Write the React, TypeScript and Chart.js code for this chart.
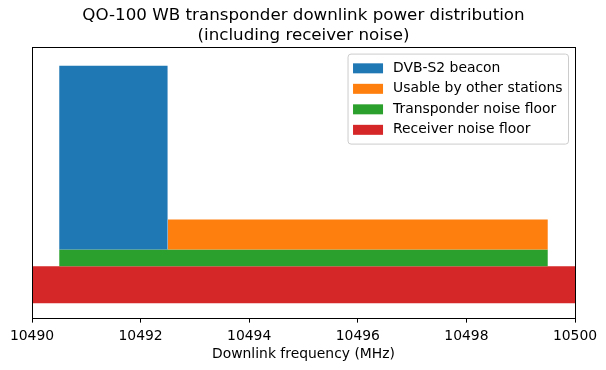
import React, { useEffect, useRef } from "react";
import { Chart, registerables } from "chart.js";

Chart.register(...registerables);

const titleLines = ["QO-100 WB transponder downlink power distribution", "(including receiver noise)"];
const xAxisTitle = "Downlink frequency (MHz)";
const segLabels = ["DVB-S2 beacon", "Usable by other stations", "Transponder noise floor", "Receiver noise floor"];
const segColors = ["#1f77b4", "#ff7f0e", "#2ca02c", "#d62728"];
const segStart = [10490.5, 10492.5, 10490.5, 10490];
const segEnd = [10492.5, 10499.5, 10499.5, 10500];
const segBottom = [25.2, 25.2, 19.0, 5.3];
const segTop = [93.1, 36.3, 25.2, 19.0];
const xMin = 10490;
const xMax = 10500;
const xStep = 2;
const yMin = 0;
const yMax = 100;

const FONT = "'DejaVu Sans', sans-serif";

const framePlugin = {
  id: "frame",
  afterDatasetsDraw(chart: any) {
    const { ctx, chartArea: a } = chart;
    ctx.save();
    ctx.strokeStyle = "#000";
    ctx.lineWidth = 1;
    ctx.strokeRect(Math.round(a.left) + 0.5, Math.round(a.top) + 0.5, Math.round(a.right - a.left), Math.round(a.bottom - a.top));
    ctx.restore();
  },
};

const legendPlugin = {
  id: "mplLegend",
  afterDraw(chart: any) {
    const { ctx, chartArea: a } = chart;
    const ds = chart.data.datasets;
    const fs = 13.9;
    ctx.save();
    ctx.font = `${fs}px ${FONT}`;
    let maxW = 0;
    ds.forEach((d: any) => (maxW = Math.max(maxW, ctx.measureText(d.label).width)));
    const rowH = 20.5;
    const pad = 5;
    const handleW = 30;
    const handleH = 10;
    const gap = 10;
    const w = pad + handleW + gap + maxW + pad + 1;
    const h = pad + 3 + rowH * ds.length;
    const right = a.right - 6.5;
    const left = right - w;
    const top = a.top + 7;
    const r = 3;
    ctx.beginPath();
    ctx.moveTo(left + r, top);
    ctx.lineTo(left + w - r, top);
    ctx.quadraticCurveTo(left + w, top, left + w, top + r);
    ctx.lineTo(left + w, top + h - r);
    ctx.quadraticCurveTo(left + w, top + h, left + w - r, top + h);
    ctx.lineTo(left + r, top + h);
    ctx.quadraticCurveTo(left, top + h, left, top + h - r);
    ctx.lineTo(left, top + r);
    ctx.quadraticCurveTo(left, top, left + r, top);
    ctx.closePath();
    ctx.fillStyle = "rgba(255,255,255,0.8)";
    ctx.fill();
    ctx.strokeStyle = "#cccccc";
    ctx.lineWidth = 1;
    ctx.stroke();
    ds.forEach((d: any, i: number) => {
      const cy = top + pad + 3 + rowH * i + rowH / 2 - 4;
      ctx.fillStyle = d.backgroundColor;
      ctx.fillRect(left + pad, cy - handleH / 2, handleW, handleH);
      ctx.fillStyle = "#000";
      ctx.textBaseline = "middle";
      ctx.textAlign = "left";
      ctx.fillText(d.label, left + pad + handleW + gap, cy);
    });
    ctx.restore();
  },
};

export default function App() {
  const ref = useRef<HTMLCanvasElement>(null);
  useEffect(() => {
    if (!ref.current) return;
    const datasets = segLabels.map((label, i) => ({
      label,
      data: [
        { x: segStart[i], y: segTop[i] },
        { x: segEnd[i], y: segTop[i] },
      ],
      backgroundColor: segColors[i],
      borderColor: segColors[i],
      borderWidth: 0,
      pointRadius: 0,
      tension: 0,
      fill: { value: segBottom[i] },
    }));
    const chart = new Chart(ref.current, {
      type: "line",
      data: { datasets },
      plugins: [framePlugin, legendPlugin],
      options: {
        animation: false,
        responsive: false,
        devicePixelRatio: 1,
        layout: { padding: { left: 32, right: 31, top: 0, bottom: 7 } },
        plugins: {
          legend: { display: false },
          tooltip: { enabled: false },
          title: {
            display: true,
            text: titleLines,
            color: "#000",
            font: { family: FONT, size: 16.7, weight: "normal", lineHeight: 1.2 },
            padding: { top: 6, bottom: 1 },
          },
        },
        scales: {
          x: {
            type: "linear",
            min: xMin,
            max: xMax,
            border: { display: false },
            grid: { display: true, drawOnChartArea: false, tickLength: 5, color: "#000", tickColor: "#000" },
            ticks: {
              stepSize: xStep,
              color: "#000",
              padding: 5,
              font: { family: FONT, size: 13.9 },
              maxRotation: 0,
              callback: (v: any) => String(v),
            },
            title: {
              display: true,
              text: xAxisTitle,
              color: "#000",
              font: { family: FONT, size: 13.9 },
              padding: { top: -3, bottom: 0 },
            },
          },
          y: { type: "linear", display: false, min: yMin, max: yMax },
        },
      },
    } as any);
    return () => chart.destroy();
  }, []);
  return (
    <div style={{ position: "fixed", left: 0, top: 0, width: 606, height: 370, background: "#fff" }}>
      <canvas ref={ref} width={606} height={370} style={{ width: 606, height: 370 }} />
    </div>
  );
}
